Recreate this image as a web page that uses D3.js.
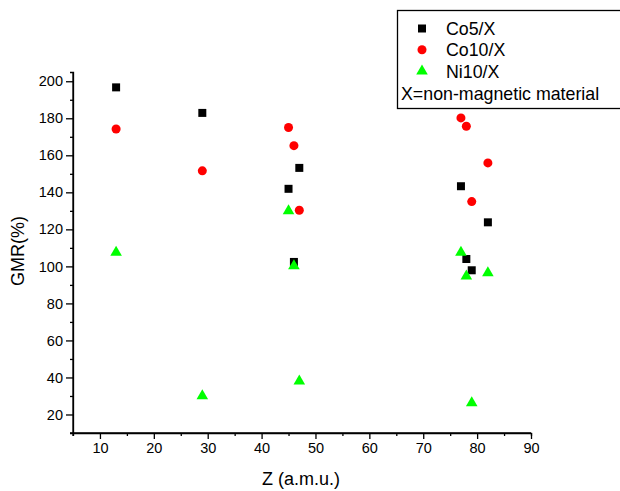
<!DOCTYPE html>
<html>
<head>
<meta charset="utf-8">
<script src="https://cdn.jsdelivr.net/npm/d3@7"></script>
<style>
  body { margin: 0; background: #fff; }
  text { font-family: "Liberation Sans", Arial, sans-serif; }
</style>
</head>
<body>
<div id="chart"></div>
<script>
// Atomic number of the non-magnetic spacer
var zCo5 = [13, 29, 45, 46, 47, 77, 78, 79, 82];
var gmrCo5 = [196.7, 182.9, 141.9, 102.4, 153.2, 143.3, 104, 97.9, 123.8];

var zCo10 = [13, 29, 45, 46, 47, 77, 78, 79, 82];
var gmrCo10 = [174.2, 151.6, 175, 165.2, 130.3, 180.2, 175.7, 135, 155.9];

var zNi10 = [13, 29, 45, 46, 47, 77, 78, 79, 82];
var gmrNi10 = [107.6, 30, 130, 100.3, 38, 107.6, 94.7, 26.3, 96.5];

var xTicks = [10, 20, 30, 40, 50, 60, 70, 80, 90];
var yTicks = [20, 40, 60, 80, 100, 120, 140, 160, 180, 200];
var legendLabels = ["Co5/X", "Co10/X", "Ni10/X"];
var legendNote = "X=non-magnetic material";

var W = 620, H = 491;
var svg = d3.select("#chart").append("svg")
    .attr("width", W)
    .attr("height", H);

var x = d3.scaleLinear().domain([5, 90]).range([73, 531]);
var y = d3.scaleLinear().domain([10, 205]).range([433, 72]);

// axes
var xAxis = svg.append("g")
    .attr("transform", "translate(0,433)")
    .call(d3.axisBottom(x).tickValues(xTicks).tickSize(6).tickSizeOuter(0).tickPadding(4));
var xMinor = svg.append("g")
    .attr("transform", "translate(0,433)")
    .call(d3.axisBottom(x).tickValues(d3.range(15, 90, 10)).tickSize(3).tickFormat(""));

var yAxis = svg.append("g")
    .attr("transform", "translate(73,0)")
    .call(d3.axisLeft(y).tickValues(yTicks).tickSize(7).tickSizeOuter(0).tickPadding(3));
var yMinor = svg.append("g")
    .attr("transform", "translate(73,0)")
    .call(d3.axisLeft(y).tickValues(d3.range(30, 205, 20)).tickSize(3).tickFormat(""));

[xAxis, xMinor, yAxis, yMinor].forEach(function(g) {
    g.selectAll("path, line").attr("stroke", "#000").attr("stroke-width", 1.3);
    g.selectAll("text").attr("font-size", "14.5px").attr("fill", "#000")
        .attr("font-family", "'Liberation Sans', Arial, sans-serif");
});
// little overhang past the axis origin, like the original
xAxis.select(".domain").attr("d", "M70,0H531");
yAxis.select(".domain").attr("d", "M0,436V72");

// axis titles
svg.append("text")
    .attr("x", 301)
    .attr("y", 485)
    .attr("text-anchor", "middle")
    .attr("font-size", "18px")
    .text("Z (a.m.u.)");

svg.append("text")
    .attr("transform", "translate(24,251) rotate(-90)")
    .attr("text-anchor", "middle")
    .attr("font-size", "18px")
    .text("GMR(%)");

// points
var sym = {
    square: d3.symbol().type(d3.symbolSquare).size(64),
    circle: d3.symbol().type(d3.symbolCircle).size(64),
    triangle: d3.symbol().type(d3.symbolTriangle).size(58)
};

function drawSeries(zs, vals, shape, color) {
    svg.append("g").selectAll("path")
        .data(zs)
        .enter().append("path")
        .attr("transform", function(d, i) { return "translate(" + x(d) + "," + y(vals[i]) + ")"; })
        .attr("d", sym[shape])
        .attr("fill", color);
}

drawSeries(zCo5, gmrCo5, "square", "#000000");
drawSeries(zCo10, gmrCo10, "circle", "#ff0000");
drawSeries(zNi10, gmrNi10, "triangle", "#00ff00");

// legend
var legend = svg.append("g");
legend.append("rect")
    .attr("x", 397.5)
    .attr("y", 10.5)
    .attr("width", 230)
    .attr("height", 98)
    .attr("fill", "#fff")
    .attr("stroke", "#000")
    .attr("stroke-width", 1.3);

var shapes = ["square", "circle", "triangle"];
var colors = ["#000000", "#ff0000", "#00ff00"];
legendLabels.forEach(function(lab, i) {
    var cy = 28.5 + i * 21.3;
    legend.append("path")
        .attr("transform", "translate(422," + cy + ")")
        .attr("d", sym[shapes[i]])
        .attr("fill", colors[i]);
    legend.append("text")
        .attr("x", 446)
        .attr("y", cy + 6.5)
        .attr("font-size", "17.8px")
        .text(lab);
});
legend.append("text")
    .attr("x", 401)
    .attr("y", 100)
    .attr("font-size", "17.8px")
    .text(legendNote);
</script>
</body>
</html>
